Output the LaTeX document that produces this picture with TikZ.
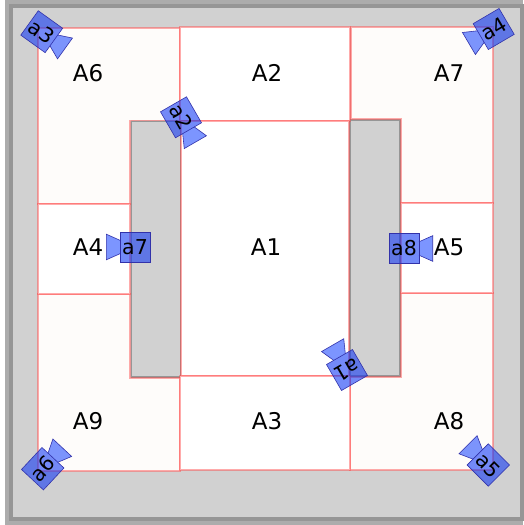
\documentclass[tikz,border=0pt]{standalone}
\usepackage{fontspec}
\setmainfont{DejaVu Sans}
\definecolor{frameOuter}{RGB}{172,172,172}
\definecolor{frameBand}{RGB}{150,150,150}
\definecolor{paneGrey}{RGB}{209,209,209}
\definecolor{roomTint}{RGB}{254,252,250}
\definecolor{roomLine}{RGB}{255,70,70}
\definecolor{tagBox}{RGB}{10,50,245}
\definecolor{tagWedge}{RGB}{26,70,255}
\definecolor{tagLine}{RGB}{50,50,170}
\tikzset{
  room/.style={draw=roomLine,draw opacity=.45,line width=1.7pt},
  pane/.style={fill=paneGrey,draw=frameBand,line width=1.4pt},
  roomlabel/.style={font=\fontsize{23}{25}\selectfont,inner sep=0pt},
  tagbody/.style={draw=tagLine,fill=tagBox,fill opacity=.57,text opacity=1,line width=.6pt,
    minimum size=30pt,inner sep=0pt,font=\fontsize{20.5}{22}\selectfont},
  tagtail/.style={draw=tagLine,fill=tagWedge,fill opacity=.57,line width=.6pt}
}
% name, x, y, tail angle, text angle, text
\newcommand{\doortag}[6]{
\begin{scope}[shift={(#2,#3)},rotate=#4]
\draw[tagtail] (15,-6.7) -- (28.7,-12.8) -- (28.7,12.8) -- (15,6.7);
\end{scope}
\node[tagbody,rotate=#5] (#1) at (#2,#3) {#6};
}
\begin{document}
\begin{tikzpicture}[x=1pt,y=-1pt]
\useasboundingbox (0,0) rectangle (523,525);
\fill[white] (0,0) rectangle (523,525);
\fill[frameOuter] (5,0) rectangle (523,525);
\fill[paneGrey,draw=frameBand,line width=4pt] (11,6) rectangle (522,519);
\draw[pane] (131.5,121) rectangle (180.5,377);
\draw[pane] (350,120) rectangle (400,376);
\filldraw[room,fill=roomTint] (38,28) -- (180,28) -- (180,120.5) -- (130,120.5) -- (130,204) -- (38,204) -- cycle;
\filldraw[room,fill=roomTint] (351,27) -- (493,27) -- (493,203) -- (401,203) -- (401,119) -- (351,119) -- cycle;
\filldraw[room,fill=roomTint] (38,294) -- (130,294) -- (130,378) -- (180,378) -- (180,471) -- (38,471) -- cycle;
\filldraw[room,fill=roomTint] (401,293) -- (493,293) -- (493,470) -- (350,470) -- (350,377) -- (401,377) -- cycle;
\filldraw[room,fill=white] (180,27) rectangle (350,121);
\filldraw[room,fill=white] (181,121) rectangle (349,376);
\filldraw[room,fill=white] (180,376) rectangle (350,470);
\filldraw[room,fill=white] (38,204) rectangle (130,294);
\filldraw[room,fill=white] (401,203) rectangle (493,293);
\node[roomlabel] (A6) at (88,73) {A6};
\node[roomlabel] (A2) at (267,73) {A2};
\node[roomlabel] (A7) at (449,73) {A7};
\node[roomlabel] (A4) at (88,247) {A4};
\node[roomlabel] (A1) at (266,247) {A1};
\node[roomlabel] (A5) at (449,247) {A5};
\node[roomlabel] (A9) at (88,421) {A9};
\node[roomlabel] (A3) at (267,421) {A3};
\node[roomlabel] (A8) at (449,421) {A8};
\doortag{a3}{41.7}{31.7}{-35.7}{-35.7}{a3}
\doortag{a2}{181}{117.3}{-60}{-60}{a2}
\doortag{a4}{493.7}{29}{210.4}{30.4}{a4}
\doortag{a7}{135}{247}{180}{0}{a7}
\doortag{a8}{404}{248.5}{0}{0}{a8}
\doortag{a1}{347}{370}{120}{210}{a1}
\doortag{a6}{42.7}{468.7}{47}{47}{a6}
\doortag{a5}{488.3}{465}{135}{-45}{a5}
\end{tikzpicture}
\end{document}
